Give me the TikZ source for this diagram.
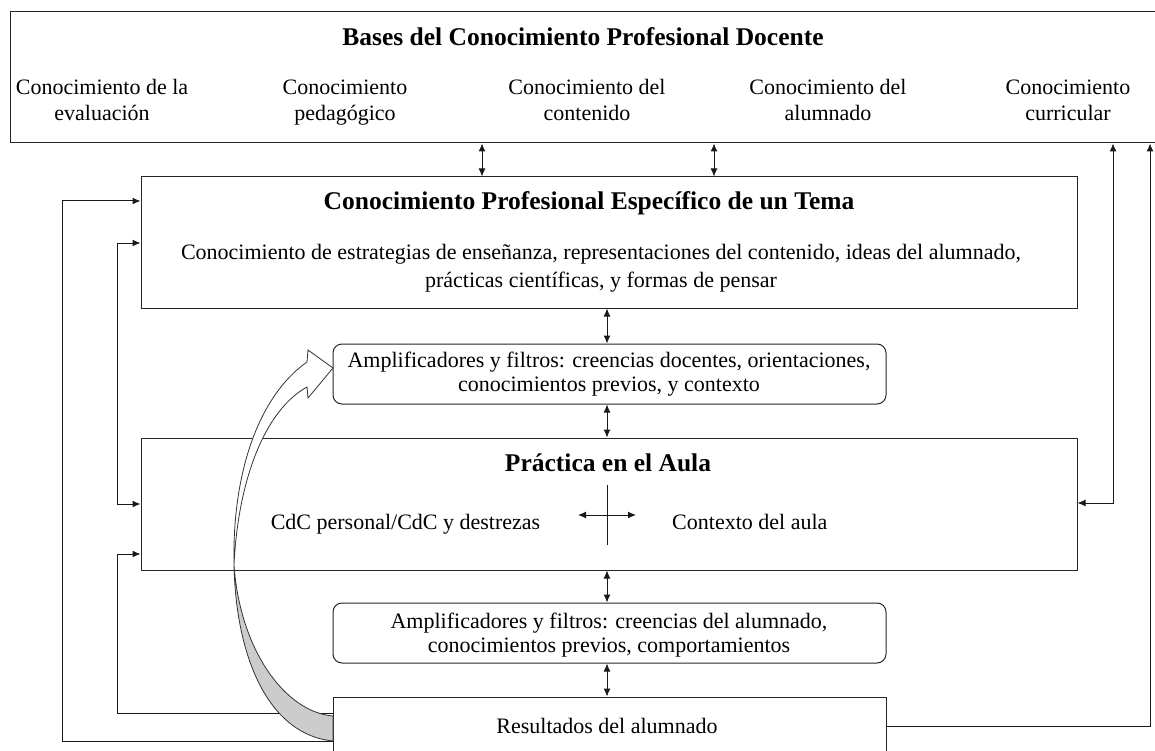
\documentclass[tikz,border=0pt]{standalone}
\usepackage{fontspec}
\setmainfont{Liberation Serif}
\usetikzlibrary{arrows.meta}
\begin{document}
\begin{tikzpicture}[x=1pt,y=-1pt,
  box/.style={draw=black!85, line width=1pt, rectangle, inner sep=0pt},
  rbox/.style={box, rounded corners=9pt},
  txt/.style={inner sep=0pt, align=center, font=\fontsize{22}{26}\selectfont,
    execute at begin node=\strut, execute at end node=\strut},
  ttl/.style={inner sep=0pt, font=\fontsize{25.5}{28}\selectfont\bfseries},
  con/.style={line width=1pt, draw=black!90},
  tip/.style={-{Latex[length=8pt,width=7pt]}},
  dbl/.style={{Latex[length=8pt,width=7pt]}-{Latex[length=8pt,width=7pt]}},
]
\useasboundingbox (0,0) rectangle (1155,751);
% boxes
\node[box, minimum width=1146pt, minimum height=131pt] (top) at (583,77.5) {};
\node[box, minimum width=936pt, minimum height=131pt] (cpet) at (609,242.5) {};
\node[rbox, minimum width=553pt, minimum height=60pt] (amp1) at (609.5,374) {};
\node[box, minimum width=936pt, minimum height=132pt] (prac) at (609,504) {};
\node[rbox, minimum width=553pt, minimum height=60pt] (amp2) at (609.5,633) {};
\node[box, minimum width=553pt, minimum height=64pt] (res) at (609.5,729) {};
% texts
\node[ttl] (tTop) at (583,37) {Bases del Conocimiento Profesional Docente};
\node[txt] (k1) at (102,104) {Conocimiento de la\\evaluación};
\node[txt] (k2) at (345,104) {Conocimiento\\pedagógico};
\node[txt] (k3) at (587,104) {Conocimiento del\\contenido};
\node[txt] (k4) at (828,104) {Conocimiento del\\alumnado};
\node[txt] (k5) at (1068,104) {Conocimiento\\curricular};
\node[ttl] (tCpet) at (589,203) {Conocimiento Profesional Específico de un Tema};
\node[txt, font=\fontsize{22}{28}\selectfont] (sCpet) at (601,270) {Conocimiento de estrategias de enseñanza, representaciones del contenido, ideas del alumnado,\\prácticas científicas, y formas de pensar};
\node[txt, font=\fontsize{22}{24}\selectfont] (tAmp1) at (609,375) {Amplificadores y filtros: creencias docentes, orientaciones,\\conocimientos previos, y contexto};
\node[ttl] (tPrac) at (608,463) {Práctica en el Aula};
\node[txt] (tCdc) at (405.5,524) {CdC personal/CdC y destrezas};
\node[txt, anchor=west] (tCtx) at (672,524) {Contexto del aula};
\node[txt, font=\fontsize{22}{24}\selectfont] (tAmp2) at (609,636) {Amplificadores y filtros: creencias del alumnado,\\conocimientos previos, comportamientos};
\node[txt] (tRes) at (607,728) {Resultados del alumnado};
% vertical double arrows
\draw[con,dbl] (top.south -| 482,0) -- (cpet.north -| 482,0);
\draw[con,dbl] (top.south -| 714,0) -- (cpet.north -| 714,0);
\draw[con,dbl] (cpet.south -| 607,0) -- (amp1.north -| 607,0);
\draw[con,dbl] (amp1.south -| 607,0) -- (prac.north -| 607,0);
\draw[con,dbl] (prac.south -| 607,0) -- (amp2.north -| 607,0);
\draw[con,dbl] (amp2.south -| 607,0) -- (res.north -| 607,0);
% cross
\coordinate (cU) at (607,485);
\coordinate (cD) at (607,545);
\coordinate (cL) at (578,515);
\coordinate (cR) at (636,515);
\draw[con] (cU) -- (cD);
\draw[con,dbl] (cL) -- (cR);
% left feedback lines
\coordinate (b1) at (62,201);
\coordinate (b2) at (117,504);
\coordinate (b3) at (117,554);
\draw[con,tip] (res.west |- 0,741) -| (b1) -- (cpet.west |- b1);
\draw[con,dbl] (cpet.west |- 0,243) -| (b2) -- (prac.west |- b2);
\draw[con,tip] (res.west |- 0,713) -| (b3) -- (prac.west |- b3);
% right lines
\draw[con,tip] (res.east |- 0,726) -| (top.south -| 1150,0);
\draw[con,dbl] (top.south -| 1113,0) |- (prac.east |- 0,503);
% curved ribbon arrow
\fill[gray!40, draw=black!80, line width=0.8pt]
  (333,741) .. controls (270,735) and (236,660) .. (234,565)
  .. controls (240,650) and (285,712) .. (333,716) -- cycle;
\fill[white, draw=black!80, line width=0.8pt]
  (234,565) .. controls (232,470) and (260,395) .. (307,362)
  -- (308,350) -- (333,368) -- (308,398) -- (307,387)
  .. controls (265,410) and (238,480) .. (234,565) -- cycle;
\end{tikzpicture}
\end{document}
